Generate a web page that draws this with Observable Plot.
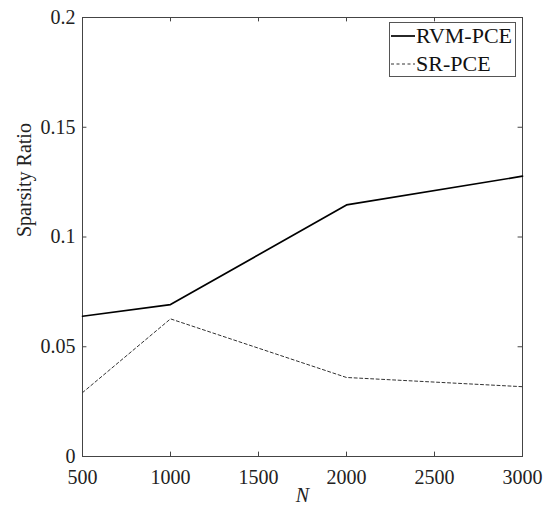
<!DOCTYPE html>
<html>
<head>
<meta charset="utf-8">
<script src="https://cdn.jsdelivr.net/npm/d3@7"></script>
<script src="https://cdn.jsdelivr.net/npm/@observablehq/plot@0.6"></script>
<style>
  html, body { margin: 0; padding: 0; background: #fff; }
  #wrap { position: relative; width: 553px; height: 509px; font-family: 'Liberation Serif', 'Times New Roman', serif; }
  #legend { position: absolute; left: 389px; top: 22px; width: 125px; height: 53px; border: 1px solid #555; background: #fff; overflow: hidden; }
  .row { position: absolute; left: 0; height: 26px; display: flex; align-items: center; font-size: 22px; color: #111; line-height: 1; white-space: nowrap; font-family: 'Liberation Serif', 'Times New Roman', serif; }
  .row svg { margin-left: 1px; margin-right: 1px; }
  svg text { font-family: 'Liberation Serif', 'Times New Roman', serif; }
</style>
</head>
<body>
<div id="wrap"><div id="legend"></div></div>
<script>
const N = [500, 1000, 2000, 3000];
const rvmPCE = [0.0639, 0.0692, 0.1146, 0.1277];
const srPCE = [0.0291, 0.0627, 0.0360, 0.0318];
const seriesNames = ["RVM-PCE", "SR-PCE"];
const xTicks = [500, 1000, 1500, 2000, 2500, 3000];
const yTicks = [0, 0.05, 0.1, 0.15, 0.2];
const yTickLabels = ["0", "0.05", "0.1", "0.15", "0.2"];

const rvmData = N.map((n, i) => ({N: n, v: rvmPCE[i]}));
const srData = N.map((n, i) => ({N: n, v: srPCE[i]}));

const serif = "'Liberation Serif', 'Times New Roman', serif";
const axisColor = "#444";
const tickLenX = 25;     // in x data units (≈4.4px)
const tickLenY = 0.002;  // in y data units (≈4.4px)

const chart = Plot.plot({
  width: 553,
  height: 509,
  marginLeft: 82,
  marginRight: 31,
  marginTop: 17,
  marginBottom: 53,
  style: {fontFamily: serif, fontSize: "20px", color: "#222", background: "white"},
  x: {domain: [500, 3000]},
  y: {domain: [0, 0.2]},
  marks: [
    Plot.ruleX(xTicks, {x: d => d, y1: 0, y2: tickLenY, stroke: axisColor}),
    Plot.ruleX(xTicks, {x: d => d, y1: 0.2 - tickLenY, y2: 0.2, stroke: axisColor}),
    Plot.ruleY(yTicks, {y: d => d, x1: 500, x2: 500 + tickLenX, stroke: axisColor}),
    Plot.ruleY(yTicks, {y: d => d, x1: 3000 - tickLenX, x2: 3000, stroke: axisColor}),
    Plot.axisX(xTicks, {tickSize: 0, tickPadding: 13, label: null, fontSize: 20, tickFormat: d => String(d)}),
    Plot.axisY(yTicks, {tickSize: 0, tickPadding: 7, label: null, fontSize: 20, tickFormat: (d, i) => yTickLabels[i]}),
    Plot.frame({stroke: axisColor, strokeWidth: 1}),
    Plot.line(srData, {x: "N", y: "v", stroke: "#333", strokeWidth: 1, strokeDasharray: "3,2.5"}),
    Plot.line(rvmData, {x: "N", y: "v", stroke: "#000", strokeWidth: 1.7}),
    Plot.text(["N"], {frameAnchor: "bottom", dy: 45, fontStyle: "italic", fontSize: 20, fill: "#222"}),
    Plot.text(["Sparsity Ratio"], {frameAnchor: "left", rotate: -90, dx: -58, fontSize: 20, fill: "#222"})
  ]
});
document.getElementById("wrap").prepend(chart);

const legend = document.getElementById("legend");
const styles = [
  {stroke: "#000", width: 1.7, dash: null},
  {stroke: "#333", width: 1, dash: "3,2.5"}
];
seriesNames.forEach((name, i) => {
  const row = document.createElement("div");
  row.className = "row";
  row.style.top = (i === 0 ? 0 : 28) + "px";
  const s = styles[i];
  row.innerHTML = `<svg width="24" height="10"><line x1="0" y1="5" x2="24" y2="5" stroke="${s.stroke}" stroke-width="${s.width}" ${s.dash ? `stroke-dasharray="${s.dash}"` : ""}/></svg><span>${name}</span>`;
  legend.appendChild(row);
});
</script>
</body>
</html>
